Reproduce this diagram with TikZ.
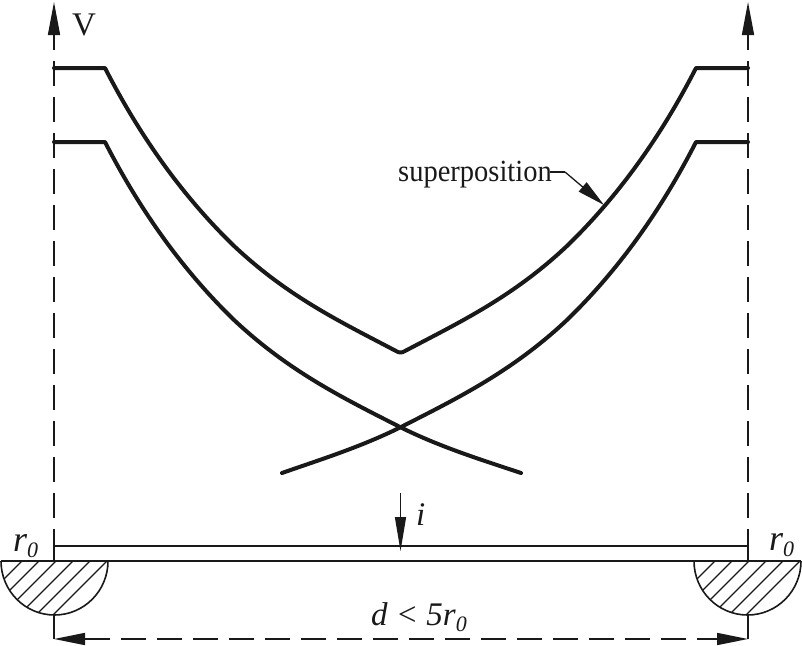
\documentclass[tikz,border=0pt]{standalone}
\usepackage{fontspec}
\usepackage{graphicx}
\setmainfont{Liberation Serif}
\usetikzlibrary{arrows.meta}
\tikzset{
  thickc/.style={line width=4pt,line cap=round,line join=round,black!90},
  thin/.style={line width=1.6pt,black!90},
  dashv/.style={line width=1.6pt,black!90,dash pattern=on 25pt off 11pt},
  headv/.style={-{Triangle[length=33pt,width=12pt]},line width=1.6pt,black!90},
  lab/.style={inner sep=0pt,font=\fontsize{33}{34}\selectfont,black!90},
  hatchl/.style={line width=1.3pt,black!90},
}
\newcommand{\rsub}{\fontsize{36}{37}\selectfont\itshape r\kern0pt\lower6pt\hbox{\fontsize{22}{24}\selectfont 0}}
\begin{document}
\begin{tikzpicture}[x=1pt,y=-1pt]
\useasboundingbox (0,0) rectangle (802,645);
% named points
\coordinate (LT) at (54,561); \coordinate (LB) at (54,615);
\coordinate (RT) at (748,561); \coordinate (RB) at (748,615);
\coordinate (La) at (54,2); \coordinate (Lb) at (54,50);
\coordinate (Ra) at (748,2); \coordinate (Rb) at (748,50);
\coordinate (Ld) at (54,639); \coordinate (Rd) at (748,639);
% vertical axes
\draw[headv] (Lb) -- (La);
\draw[headv] (Rb) -- (Ra);
\draw[dashv] (54,61) -- (LT);
\draw[dashv] (748,61) -- (RT);
\draw[thin] (54,529) -- (LT);
\draw[thin] (748,529) -- (RT);
% electrode strip
\draw[thin] (54,546) -- (748,546);
\draw[thin] (1,561) -- (801,561);
% half circles
\begin{scope}
\clip (1,561) arc[start angle=180,end angle=360,x radius=53.5pt,y radius=54pt] -- cycle;
\foreach \t in {22,39,56,73,90,107}{\draw[hatchl] (\t,561) -- ++(-70,70);}
\end{scope}
\begin{scope}
\clip (694,561) arc[start angle=180,end angle=360,x radius=53.5pt,y radius=54pt] -- cycle;
\foreach \t in {715,732,749,766,783,800}{\draw[hatchl] (\t,561) -- ++(-70,70);}
\end{scope}
\draw[thin] (1,561) arc[start angle=180,end angle=360,x radius=53.5pt,y radius=54pt];
\draw[thin] (694,561) arc[start angle=180,end angle=360,x radius=53.5pt,y radius=54pt];
% dimension
\draw[thin] (LB) -- (Ld);
\draw[thin] (RB) -- (Rd);
\draw[line width=1.6pt,black!90,dash pattern=on 25pt off 11pt] (85,639) -- (718,639);
\draw[-{Triangle[length=31pt,width=12pt]},line width=1.6pt,black!90] (90,639) -- (Ld);
\draw[-{Triangle[length=31pt,width=12pt]},line width=1.6pt,black!90] (712,639) -- (Rd);
% curves
\draw[thickc] (54,142) -- (105,142) .. controls (146,222) and (191,278) .. (233,319) .. controls (288,371) and (343,398) .. (400,427) .. controls (440,447) and (482,460) .. (521,473);
\draw[thickc] (748,142) -- (696,142) .. controls (655,222) and (610,278) .. (568,319) .. controls (513,371) and (458,398) .. (401,427) .. controls (361,447) and (319,460) .. (282,473);
\draw[thickc] (54,68) -- (105,68) .. controls (146,148) and (191,204) .. (233,245) .. controls (288,297) and (341,322) .. (396,351) .. controls (399,353) and (402,353) .. (405,351) .. controls (460,322) and (513,297) .. (568,245) .. controls (610,204) and (655,148) .. (696,68) -- (748,68);
% current arrow
\coordinate (Ia) at (400.5,493); \coordinate (Ib) at (400.5,551);
\draw[-{Triangle[length=34pt,width=11pt]},line width=1.4pt,black!90] (Ia) -- (Ib);
% leader
\node[lab,anchor=base west] (sup) at (398,181) {\fontsize{28.5}{30}\selectfont\scalebox{1}[1.08]{superposition}};
\coordinate (Knee) at (565,172);
\coordinate (Tip) at (604,205);
\coordinate (SupEnd) at (550,172);
\draw[line width=1.3pt,black!90] (SupEnd) -- (Knee);
\draw[-{Triangle[length=28pt,width=12pt]},line width=1.3pt,black!90] (Knee) -- (Tip);
% labels
\node[lab,anchor=base west] (V) at (72,35) {V};
\node[lab,anchor=base west] (I) at (416,525) {\itshape i};
\node[lab,anchor=base west] (r0l) at (13,551) {\rsub};
\node[lab,anchor=base west] (r0r) at (769,550) {\rsub};
\node[lab,anchor=base west] (dim) at (371,625) {\fontsize{33}{34}\selectfont\itshape d < 5r\kern0pt\lower6pt\hbox{\fontsize{22}{24}\selectfont 0}};
\end{tikzpicture}
\end{document}
